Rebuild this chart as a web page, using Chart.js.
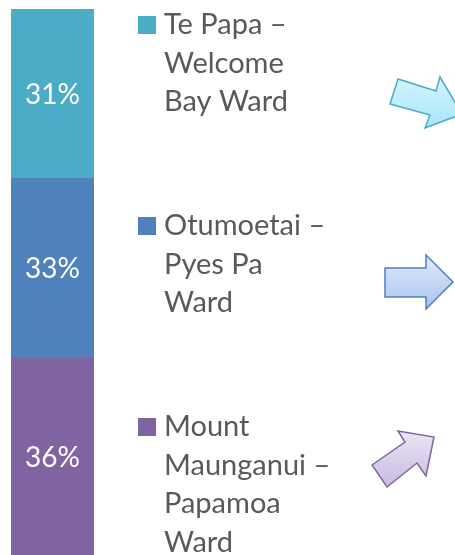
<!DOCTYPE html>
<html>
<head>
<meta charset="utf-8">
<script src="https://cdn.jsdelivr.net/npm/chart.js@4/dist/chart.umd.min.js"></script>
<style>
  html, body { margin: 0; padding: 0; background: #fff; }
  #wrap { width: 455px; height: 555px; position: relative; }
</style>
</head>
<body>
<div id="wrap"><canvas id="grafico"></canvas></div>
<script>
// dados (de cima para baixo)
var wards = ['Te Papa – Welcome Bay Ward', 'Otumoetai – Pyes Pa Ward', 'Mount Maunganui – Papamoa Ward'];
var wardLines = [
    ['Te Papa –', 'Welcome', 'Bay Ward'],
    ['Otumoetai –', 'Pyes Pa', 'Ward'],
    ['Mount', 'Maunganui –', 'Papamoa', 'Ward']
];
var percents = [31, 33, 36];
var cores = ['#4bacc6', '#4f81bd', '#8064a2'];
var categoria = [''];

var fonte = 'Lato, "Open Sans", sans-serif';

// Excel empilha do primeiro para cima, entao inverte
let datasets = [];
for (var i = wards.length - 1; i >= 0; i--) {
    datasets.push({
        label: wards[i],
        data: [percents[i]],
        backgroundColor: cores[i],
        borderWidth: 0,
        barPercentage: 1,
        categoryPercentage: 1
    });
}

// rotulos dentro das barras
const rotulos = {
    id: 'rotulos',
    afterDatasetsDraw(chart) {
        const ctx = chart.ctx;
        ctx.save();
        ctx.fillStyle = '#ffffff';
        ctx.font = '28px ' + fonte;
        ctx.textAlign = 'center';
        ctx.textBaseline = 'middle';
        chart.data.datasets.forEach(function(ds, d) {
            const bar = chart.getDatasetMeta(d).data[0];
            const yc = (bar.y + bar.base) / 2;
            ctx.fillText(ds.data[0] + '%', bar.x, yc + 1);
        });
        ctx.restore();
    }
};

// legenda quebrada em linhas, como no original
const legenda = {
    id: 'legenda',
    afterDraw(chart) {
        const ctx = chart.ctx;
        const a = chart.chartArea;
        ctx.save();
        ctx.font = '29px ' + fonte;
        ctx.textBaseline = 'alphabetic';
        ctx.textAlign = 'left';
        const x0 = 138, startY = a.top + 25, passo = 201, entre = 38.5;
        for (var i = 0; i < wardLines.length; i++) {
            const y = startY + i * passo;
            ctx.fillStyle = cores[i];
            ctx.fillRect(x0, y - 18, 18, 18);
            ctx.fillStyle = '#595959';
            wardLines[i].forEach(function(t, k) {
                ctx.fillText(t, x0 + 26, y + k * entre);
            });
        }
        ctx.restore();
    }
};

// setas decorativas
function seta(ctx, pts, c1, c2, borda) {
    let minY = Math.min.apply(null, pts.map(p => p[1]));
    let maxY = Math.max.apply(null, pts.map(p => p[1]));
    const g = ctx.createLinearGradient(0, minY, 0, maxY);
    g.addColorStop(0, c1);
    g.addColorStop(1, c2);
    ctx.beginPath();
    pts.forEach(function(p, k) { k ? ctx.lineTo(p[0], p[1]) : ctx.moveTo(p[0], p[1]); });
    ctx.closePath();
    ctx.fillStyle = g;
    ctx.fill();
    ctx.lineWidth = 1.5;
    ctx.strokeStyle = borda;
    ctx.stroke();
}

const setas = {
    id: 'setas',
    afterDraw(chart) {
        const ctx = chart.ctx;
        ctx.save();
        seta(ctx, [[398, 79], [436, 91], [440, 77], [462, 114], [425, 128], [430, 115], [390, 104]],
             '#d3f4fd', '#a8e6f7', '#4bacc6');
        seta(ctx, [[385, 268], [426, 268], [426, 255], [453, 282], [426, 309], [426, 297], [385, 297]],
             '#e2ebfa', '#a9c3ee', '#4f81bd');
        seta(ctx, [[372, 465], [405, 442], [398, 431], [434, 437], [426, 476], [417, 463], [387, 487]],
             '#ece6f5', '#c9b9e2', '#8064a2');
        ctx.restore();
    }
};

new Chart(document.getElementById('grafico'), {
    type: 'bar',
    data: { labels: categoria, datasets: datasets },
    options: {
        responsive: true,
        maintainAspectRatio: false,
        animation: false,
        layout: { padding: { left: 11, right: 361, top: 9, bottom: 0 } },
        plugins: { legend: { display: false }, tooltip: { enabled: false } },
        scales: {
            x: { stacked: true, display: false },
            y: { stacked: true, display: false, min: 0, max: 100 }
        }
    },
    plugins: [rotulos, legenda, setas]
});
</script>
</body>
</html>
